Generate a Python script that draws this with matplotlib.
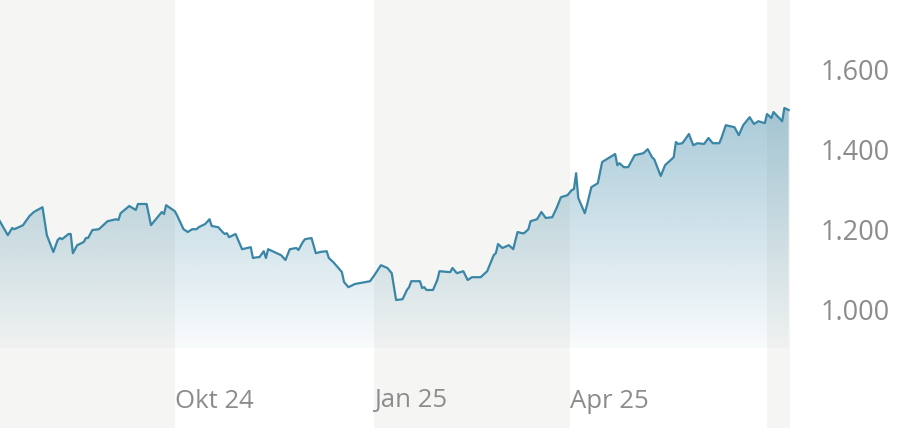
import matplotlib.pyplot as plt
import matplotlib.dates as mdates
import numpy as np
import pandas as pd

# price series
dates = [
    "2024-07-12", "2024-07-16", "2024-07-18", "2024-07-19", "2024-07-23", "2024-07-26",
    "2024-07-28", "2024-08-01", "2024-08-03", "2024-08-06", "2024-08-08", "2024-08-09",
    "2024-08-10", "2024-08-13", "2024-08-14", "2024-08-15", "2024-08-17", "2024-08-20",
    "2024-08-21", "2024-08-22", "2024-08-24", "2024-08-27", "2024-08-29", "2024-08-31",
    "2024-09-04", "2024-09-05", "2024-09-06", "2024-09-10", "2024-09-13", "2024-09-14",
    "2024-09-18", "2024-09-20", "2024-09-23", "2024-09-25", "2024-09-26", "2024-09-27",
    "2024-10-01", "2024-10-02", "2024-10-05", "2024-10-07", "2024-10-09", "2024-10-11",
    "2024-10-12", "2024-10-15", "2024-10-17", "2024-10-18", "2024-10-21", "2024-10-23",
    "2024-10-24", "2024-10-25", "2024-10-26", "2024-10-29", "2024-11-01", "2024-11-05",
    "2024-11-06", "2024-11-08", "2024-11-09", "2024-11-11", "2024-11-12", "2024-11-13",
    "2024-11-17", "2024-11-19", "2024-11-21", "2024-11-23", "2024-11-26", "2024-11-27",
    "2024-11-29", "2024-11-30", "2024-12-03", "2024-12-05", "2024-12-07", "2024-12-10",
    "2024-12-11", "2024-12-13", "2024-12-17", "2024-12-18", "2024-12-20", "2024-12-23",
    "2024-12-30", "2025-01-01", "2025-01-04", "2025-01-07", "2025-01-09", "2025-01-11",
    "2025-01-14", "2025-01-16", "2025-01-17", "2025-01-18", "2025-01-22", "2025-01-23",
    "2025-01-24", "2025-01-25", "2025-01-28", "2025-01-30", "2025-01-31", "2025-02-04",
    "2025-02-05", "2025-02-06", "2025-02-08", "2025-02-11", "2025-02-13", "2025-02-15",
    "2025-02-19", "2025-02-22", "2025-02-25", "2025-02-26", "2025-02-27", "2025-03-01",
    "2025-03-04", "2025-03-06", "2025-03-08", "2025-03-10", "2025-03-11", "2025-03-13",
    "2025-03-14", "2025-03-17", "2025-03-19", "2025-03-21", "2025-03-24", "2025-03-26",
    "2025-03-28", "2025-03-31", "2025-04-02", "2025-04-03", "2025-04-04", "2025-04-05",
    "2025-04-08", "2025-04-09", "2025-04-11", "2025-04-14", "2025-04-16", "2025-04-22",
    "2025-04-23", "2025-04-24", "2025-04-26", "2025-04-28", "2025-05-01", "2025-05-05",
    "2025-05-07", "2025-05-09", "2025-05-10", "2025-05-13", "2025-05-15", "2025-05-19",
    "2025-05-20", "2025-05-21", "2025-05-23", "2025-05-26", "2025-05-28", "2025-05-30",
    "2025-06-02", "2025-06-04", "2025-06-06", "2025-06-09", "2025-06-10", "2025-06-12",
    "2025-06-16", "2025-06-18", "2025-06-20", "2025-06-23", "2025-06-25", "2025-06-27",
    "2025-06-30", "2025-07-01", "2025-07-03", "2025-07-04", "2025-07-08", "2025-07-09",
    "2025-07-11",
]
prices = [
    1225, 1187, 1205, 1202, 1212, 1235,
    1245, 1257, 1187, 1145, 1175, 1180,
    1177, 1190, 1190, 1142, 1162, 1170,
    1180, 1180, 1200, 1202, 1212, 1222,
    1227, 1225, 1242, 1260, 1250, 1265,
    1265, 1212, 1232, 1245, 1240, 1262,
    1247, 1237, 1202, 1195, 1202, 1202,
    1207, 1215, 1227, 1210, 1207, 1195,
    1190, 1192, 1182, 1190, 1152, 1157,
    1130, 1132, 1132, 1147, 1130, 1152,
    1142, 1137, 1125, 1152, 1155, 1150,
    1170, 1177, 1180, 1142, 1145, 1147,
    1130, 1120, 1095, 1070, 1057, 1065,
    1072, 1087, 1112, 1105, 1092, 1025,
    1027, 1050, 1057, 1072, 1072, 1055,
    1057, 1050, 1050, 1075, 1097, 1095,
    1095, 1105, 1092, 1097, 1075, 1082,
    1082, 1097, 1137, 1142, 1165, 1155,
    1162, 1152, 1195, 1192, 1192, 1202,
    1222, 1227, 1245, 1230, 1232, 1255,
    1282, 1287, 1300, 1302, 1342, 1280,
    1242, 1262, 1307, 1317, 1370, 1390,
    1362, 1367, 1357, 1357, 1387, 1392,
    1402, 1382, 1377, 1335, 1362, 1382,
    1420, 1415, 1417, 1440, 1412, 1417,
    1415, 1430, 1417, 1417, 1430, 1462,
    1457, 1437, 1462, 1482, 1465, 1472,
    1467, 1490, 1480, 1495, 1472, 1505,
    1500,
]

quarter_starts = ["2024-10-01", "2025-01-01", "2025-04-01", "2025-07-01"]
quarter_labels = ["Okt 24", "Jan 25", "Apr 25"]
y_ticks = [1000, 1200, 1400, 1600]
y_tick_labels = ["1.000", "1.200", "1.400", "1.600"]

line_color = "#3a86a6"
band_color = "#f5f5f3"
text_color = "#8c8c8c"
font = ["Open Sans", "DejaVu Sans"]

x = mdates.date2num(pd.to_datetime(dates))
y = np.array(prices, dtype=float)
q = mdates.date2num(pd.to_datetime(quarter_starts))

x0 = q[0] - 80.6
x1 = q[0] + 283.6
y_lo, y_hi = 705, 1775
fill_base = 905

fig = plt.figure(figsize=(9.02, 4.28), dpi=100)
ax = fig.add_axes([0, 0, 790 / 902, 1])
ax.set_xlim(x0, x1)
ax.set_ylim(y_lo, y_hi)

# alternating quarter bands
ax.axvspan(x0, q[0], color=band_color, lw=0, zorder=0)
ax.axvspan(q[1], q[2], color=band_color, lw=0, zorder=0)
ax.axvspan(q[3], x1, color=band_color, lw=0, zorder=0)

# gradient area under the line
poly = ax.fill_between(x, y, fill_base, color="none", lw=0)
grad_vals = np.linspace(fill_base, y_hi, 256)
alpha = 0.03 + (grad_vals - fill_base) / (1500 - fill_base) * 0.41
rgba = np.zeros((256, 1, 4))
rgba[:, 0, :3] = np.array([58, 134, 166]) / 255
rgba[:, 0, 3] = np.clip(alpha, 0, 1)
im = ax.imshow(rgba, origin="lower", aspect="auto",
               extent=[x0, x1, fill_base, y_hi], zorder=1)
path = poly.get_paths()[0]
im.set_clip_path(path, transform=ax.transData)

ax.plot(x, y, color=line_color, lw=1.6, zorder=2, solid_joinstyle="round")

ax.set_xlim(x0, x1)
ax.set_ylim(y_lo, y_hi)

for s in ax.spines.values():
    s.set_visible(False)
ax.set_xticks([])
ax.yaxis.tick_right()
ax.set_yticks(y_ticks)
ax.set_yticklabels(y_tick_labels, fontsize=19.5, color=text_color, family=font)
ax.tick_params(axis="y", length=0, pad=22)

for xi, lab in zip(q[:3], quarter_labels):
    ax.text(xi, 27 / 428, lab, transform=ax.get_xaxis_transform(),
            ha="left", va="center", fontsize=18.5, color=text_color, family=font)

fig.savefig("out.png", dpi=100, facecolor="white")
